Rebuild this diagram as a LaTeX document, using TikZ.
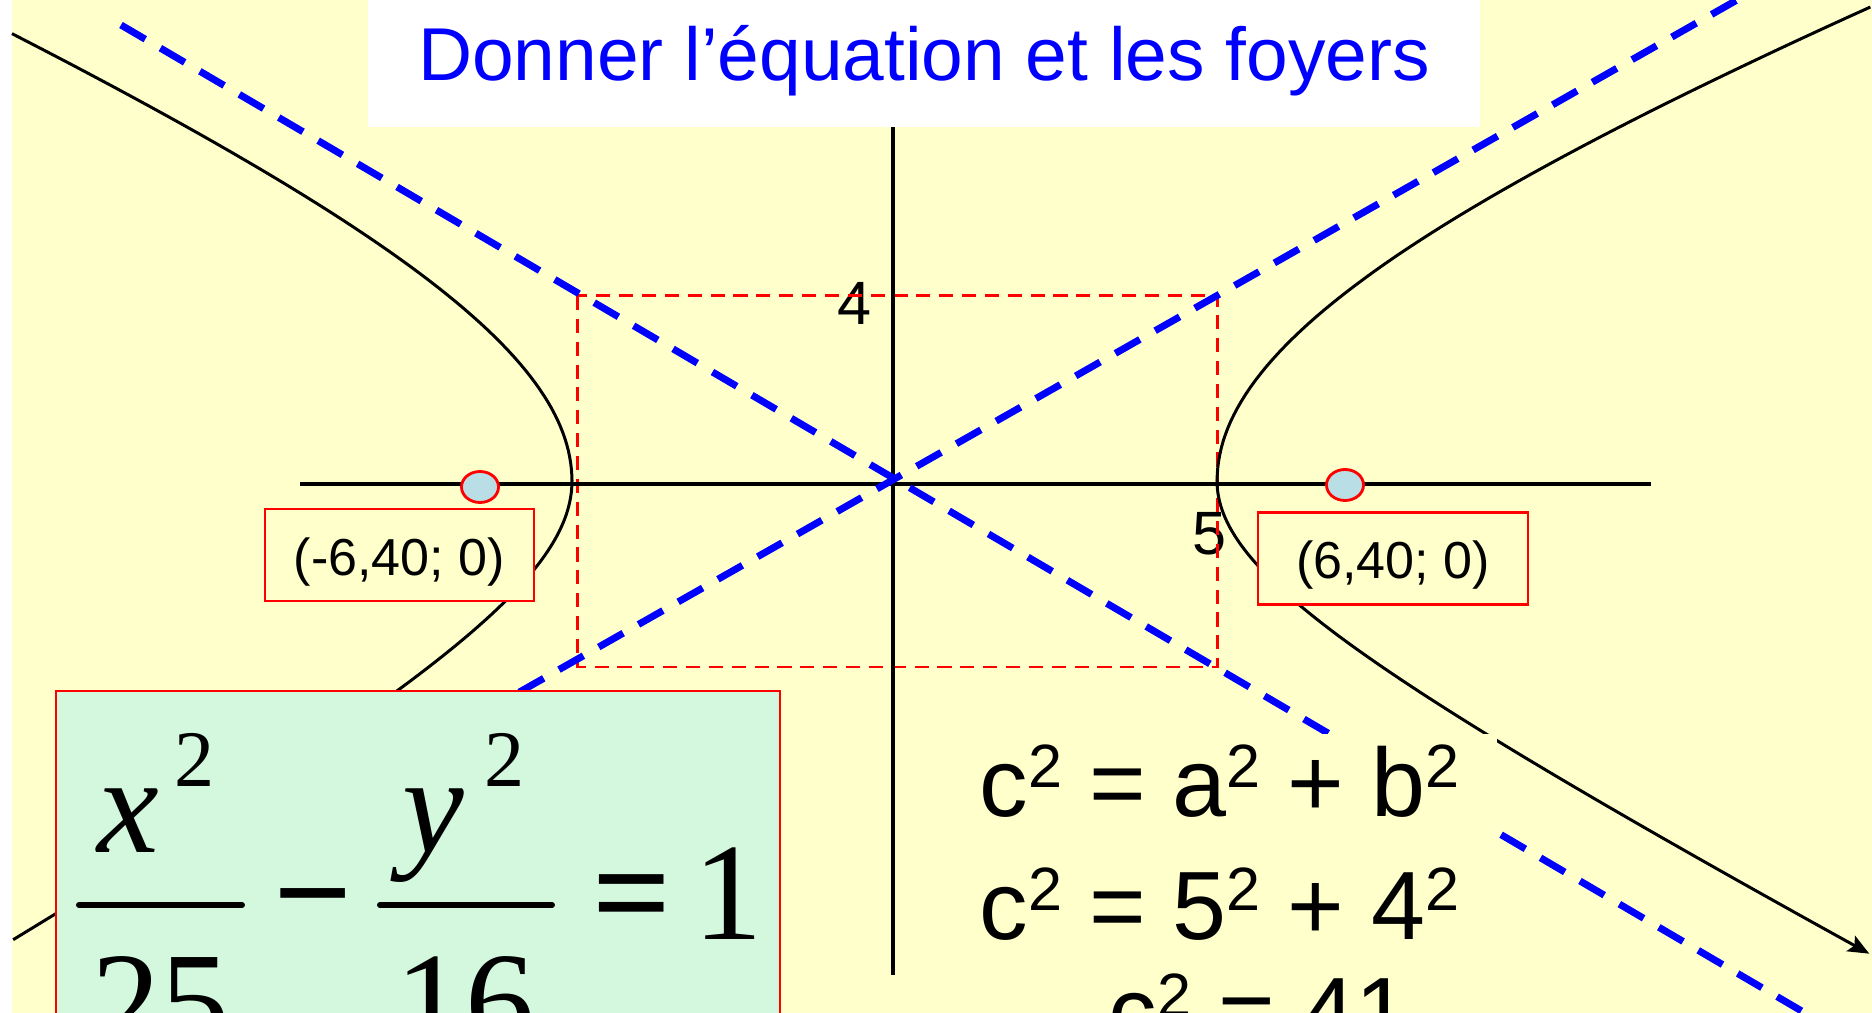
\documentclass[tikz,border=0pt]{standalone}
\usepackage{fontspec}
\setmainfont{Liberation Sans}
\newfontfamily\timesfont{Liberation Serif}
\usepackage{tikz}
\usetikzlibrary{arrows.meta,positioning,calc,shapes.geometric}

\definecolor{fondjaune}{RGB}{255,255,204}
\definecolor{fondvert}{RGB}{212,248,222}
\definecolor{bleuclair}{RGB}{185,222,230}

\newcommand{\carre}{\raisebox{8.5pt}{\fontsize{17.4pt}{18pt}\selectfont 2}}

\begin{document}
\begin{tikzpicture}[
  x=0.01cm, y=-0.01cm,
  axe/.style={line width=1.1pt},
  branche/.style={line width=0.85pt},
  asym/.style={blue, line width=2pt, dash pattern=on 8pt off 5pt},
  cadre/.style={red, line width=0.85pt, dash pattern=on 4pt off 2.5pt},
  foyer/.style={ellipse, draw=red, line width=0.8pt, fill=bleuclair, minimum width=0.37cm, minimum height=0.31cm, inner sep=0pt},
  etiq/.style={draw=red, line width=0.6pt, fill=fondjaune, minimum width=2.69cm, minimum height=0.92cm, inner sep=0pt, text height=11.4pt, text depth=0pt, font=\fontsize{14.8pt}{16pt}\selectfont},
  chiffre/.style={anchor=base, inner sep=0pt, font=\fontsize{17.4pt}{18pt}\selectfont},
  ligne/.style={anchor=base west, inner sep=0pt, font=\fontsize{27.6pt}{30pt}\selectfont},
  eq/.style={anchor=base, inner sep=0pt, font=\timesfont\fontsize{39.5pt}{40pt}\selectfont},
  expo/.style={anchor=base, inner sep=0pt, font=\timesfont\fontsize{22.8pt}{23pt}\selectfont},
  barre/.style={line width=1.7pt, line cap=round}
]
\useasboundingbox (0,0) rectangle (1872,1013);
\clip (0,0) rectangle (1872,1013);
\fill[white] (0,0) rectangle (1872,1013);
\fill[fondjaune] (12,0) rectangle (1872,1013);

\node[fill=white, minimum width=11.12cm, minimum height=1.27cm, inner sep=0pt, text height=15.4pt, text depth=6pt, text=blue, font=\fontsize{21.3pt}{24pt}\selectfont] (titre) at (924,63.5) {Donner l’équation et les foyers};

\node[chiffre] (quatre) at (855,325) {4};
\node[chiffre] (cinq) at (1210,555) {5};

\coordinate (A) at (577,296);
\coordinate (C) at (1217,667);
\draw[cadre] (A) rectangle (C);

\draw[axe] (300,484) -- (1651,484);
\draw[axe] (893,127) -- (893,975);

\draw[branche] plot[domain=1.193:0, samples=60, variable=\t] ({572-700*(cosh(\t)-1)}, {481-298.9*sinh(\t)})
  -- plot[domain=0:1.714, samples=70, variable=\t] ({572-300*(cosh(\t)-1)}, {481+171*sinh(\t)});
\draw[branche,-{Stealth[length=6pt,width=5pt,inset=1.2pt]}] plot[domain=1.0886:0, samples=60, variable=\t] ({1217+1000*(cosh(\t)-1)}, {481-360*sinh(\t)})
  -- plot[domain=0:1.823, samples=70, variable=\t] ({1217+300*(cosh(\t)-1)}, {481+156.9*sinh(\t)});

\coordinate (a1) at (121,25);
\coordinate (a2) at (1805,1013);
\coordinate (b1) at (400,760);
\coordinate (b2) at (1737,0);
\draw[asym] (a1) -- (a2);
\draw[asym] (b1) -- (b2);

\node[foyer] (fg) at (480,487) {};
\node[foyer] (fd) at (1345,485) {};
\node[etiq] (lg) at (399.5,555) {(-6,40; 0)};
\node[etiq] (ld) at (1393,558.5) {(6,40; 0)};

\draw[red, line width=0.6pt, fill=fondvert] (56,691) rectangle (780,1040);
\node[eq] (nx) at (128,853) {\itshape x};
\node[expo] (ex) at (195,787) {2};
\node[eq] (ny) at (433,853) {\itshape y};
\node[expo] (ey) at (505,787) {2};
\node[eq] (moins) at (313,940) {\bfseries −};
\node[eq] (egal) at (632,940) {\bfseries =};
\node[eq] (un) at (728,940) {1};
\node[eq] (d1) at (161,1049) {25};
\node[eq] (d2) at (465,1049) {16};
\draw[barre] (79,905) -- (242,905);
\draw[barre] (380,905) -- (552,905);

\fill[fondjaune] (955,734) rectangle (1497,962);
\node[ligne] (l1) at (979,817) {c\carre{} = a\carre{} + b\carre};
\node[ligne] (l2) at (979,940) {c\carre{} = 5\carre{} + 4\carre};
\node[ligne] (l3) at (1108,1046) {c\carre{} = 41};
\end{tikzpicture}
\end{document}
